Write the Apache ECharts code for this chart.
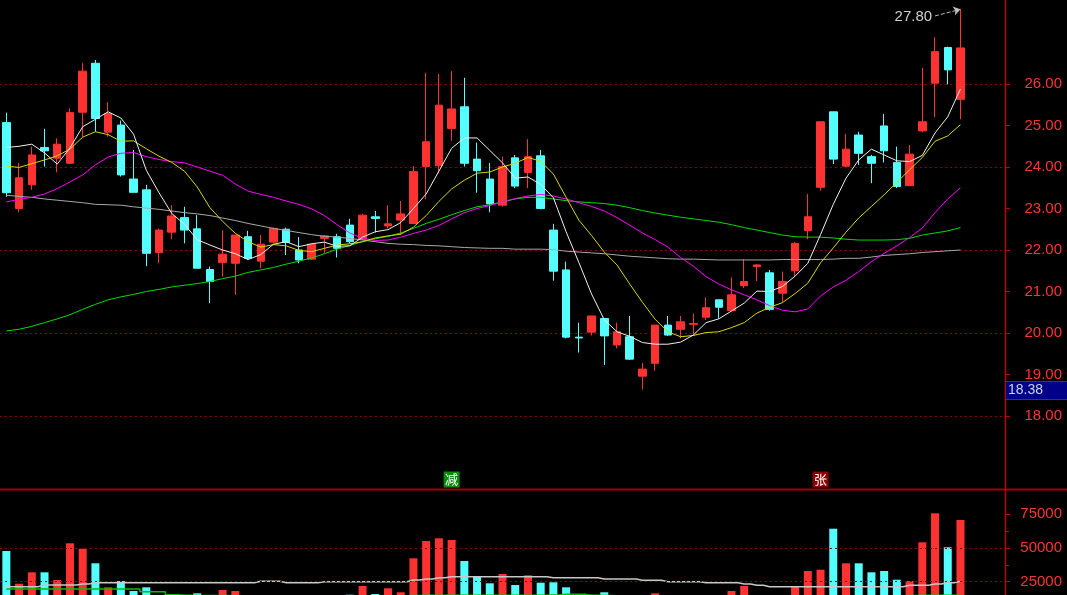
<!DOCTYPE html>
<html><head><meta charset="utf-8">
<script src="https://cdn.jsdelivr.net/npm/echarts@6/dist/echarts.min.js"></script>
<style>html,body{margin:0;padding:0;background:#000;}#c{width:1067px;height:595px;}</style>
</head><body><div id="c"></div>
<script>
// ---- data ----
const openP  = [25.07,23.00,23.57,24.47,24.21,24.09,25.32,26.50,24.84,25.01,23.71,23.45,21.94,22.43,22.78,22.51,21.53,21.70,21.68,22.32,21.73,22.19,22.50,22.00,21.78,22.28,22.32,22.60,22.26,22.80,22.58,22.72,22.64,24.01,24.03,24.93,25.45,24.19,23.71,23.08,24.22,23.87,24.27,22.48,21.52,19.90,20.02,20.35,19.71,19.91,18.96,19.27,20.19,20.09,20.21,20.38,20.80,20.54,21.14,21.60,21.45,20.96,21.50,22.47,23.51,25.33,24.02,24.77,24.25,24.99,24.11,23.55,24.87,26.02,26.88,25.63];
const closeP = [23.38,23.74,24.29,24.39,24.55,25.31,26.31,25.17,25.29,23.81,23.39,21.92,22.48,22.82,22.48,21.56,21.24,21.90,22.36,21.80,22.14,22.52,22.18,21.76,22.14,22.34,22.04,22.20,22.84,22.76,22.63,22.87,23.89,24.61,25.49,25.40,24.09,23.91,23.11,24.01,23.54,24.25,23.00,21.49,19.90,19.88,20.41,19.93,20.03,19.37,19.13,20.19,19.95,20.27,20.23,20.61,20.62,20.92,21.24,21.64,20.57,21.24,22.16,22.80,25.09,24.19,24.43,24.33,24.09,24.39,23.53,24.31,25.09,26.78,26.34,26.87];
const lowP   = [23.28,22.91,23.45,24.01,23.87,24.07,24.73,24.85,24.73,23.77,23.39,21.61,21.68,22.26,22.16,21.56,20.72,21.36,20.92,21.76,21.56,22.16,21.88,21.68,21.76,21.92,21.82,22.16,22.24,22.42,22.52,22.36,22.63,23.22,23.85,24.63,24.01,23.38,22.91,23.04,23.49,23.49,22.98,21.26,19.87,19.53,19.94,19.23,19.63,19.35,18.64,19.09,19.93,19.87,19.95,20.31,20.35,20.52,21.08,21.25,20.54,20.75,21.37,22.26,23.43,24.07,24.01,24.05,23.61,24.11,23.49,23.55,24.84,25.20,25.99,25.15];
const highP  = [25.31,24.10,24.49,24.92,24.69,25.41,26.50,26.58,25.56,25.12,24.41,23.57,22.52,23.08,23.04,22.84,21.60,22.48,22.36,22.46,22.36,22.54,22.54,22.31,22.16,22.36,22.39,22.75,22.87,22.94,23.08,23.18,24.02,26.27,26.24,26.31,26.15,24.59,24.10,24.25,24.29,24.67,24.41,22.63,21.72,20.25,20.41,20.35,20.25,20.41,19.28,20.19,20.41,20.41,20.47,20.86,20.80,21.34,21.78,21.66,21.52,21.48,22.19,23.35,25.09,25.33,24.80,24.85,24.29,25.28,24.49,24.53,26.39,27.13,26.90,27.80];
const volume = [47770,23500,31970,31970,26260,53480,49480,38650,20840,25520,18100,20840,13500,12800,11500,16390,13000,18840,18100,12500,11800,10500,11200,12000,10800,11500,12300,15350,21810,15870,20100,17140,42360,55190,57190,55930,40350,28710,23810,30710,22550,29750,24260,24550,20840,14200,13500,17140,12600,13800,12200,16390,11900,12400,10900,13600,12800,18100,21810,13200,14100,12700,21290,32940,33900,64310,38650,38650,31970,32940,26480,25520,54230,75740,50520,70770];
// moving-average lines (white, yellow, magenta, green, gray)
const ma5  = [24.47,24.50,24.55,24.34,24.07,24.46,24.97,25.15,25.33,25.18,24.79,23.92,23.38,22.88,22.62,22.25,22.12,22.00,21.91,21.77,21.89,22.14,22.20,22.08,22.15,22.19,22.09,22.10,22.31,22.44,22.49,22.66,23.00,23.35,23.90,24.45,24.70,24.70,24.40,24.10,23.73,23.76,23.58,23.26,22.44,21.70,20.94,20.32,20.03,19.92,19.77,19.73,19.73,19.78,19.95,20.25,20.34,20.53,20.72,21.01,21.00,21.12,21.37,21.68,22.37,23.10,23.73,24.17,24.43,24.29,24.15,24.13,24.28,24.82,25.21,25.88];
const ma10 = [24.02,23.99,24.08,24.17,24.27,24.43,24.72,24.85,24.78,24.62,24.63,24.44,24.26,24.11,23.90,23.52,23.02,22.69,22.40,22.20,22.07,22.13,22.10,21.99,21.96,22.04,22.12,22.15,22.20,22.29,22.34,22.38,22.55,22.83,23.17,23.47,23.68,23.85,23.88,24.00,24.09,24.23,24.14,23.83,23.27,22.72,22.35,21.95,21.64,21.18,20.74,20.33,20.03,19.91,19.94,20.01,20.03,20.13,20.25,20.48,20.62,20.73,20.95,21.20,21.69,22.05,22.43,22.77,23.05,23.33,23.63,23.93,24.23,24.62,24.75,25.02];
const ma20 = [23.16,23.22,23.27,23.35,23.48,23.64,23.81,24.05,24.24,24.33,24.35,24.25,24.18,24.13,24.10,24.00,23.90,23.80,23.59,23.42,23.34,23.27,23.18,23.10,22.99,22.83,22.61,22.41,22.28,22.23,22.24,22.31,22.40,22.48,22.59,22.75,22.90,23.00,23.07,23.16,23.24,23.30,23.34,23.30,23.23,23.14,23.05,22.94,22.78,22.60,22.41,22.25,22.07,21.82,21.61,21.36,21.18,21.04,20.92,20.80,20.66,20.55,20.51,20.58,20.89,21.11,21.27,21.48,21.72,21.92,22.10,22.30,22.53,22.90,23.23,23.50];
const ma60 = [20.05,20.09,20.16,20.25,20.34,20.44,20.57,20.69,20.80,20.87,20.93,21.00,21.05,21.11,21.15,21.19,21.24,21.31,21.37,21.46,21.52,21.58,21.66,21.73,21.81,21.91,22.02,22.11,22.20,22.27,22.33,22.41,22.52,22.64,22.74,22.85,22.95,23.04,23.09,23.16,23.23,23.27,23.27,23.23,23.19,23.16,23.14,23.12,23.08,23.02,22.95,22.89,22.84,22.79,22.75,22.71,22.67,22.61,22.54,22.48,22.42,22.36,22.32,22.31,22.31,22.29,22.26,22.24,22.24,22.24,22.25,22.28,22.36,22.41,22.46,22.54];
const ma120 = [23.32,23.29,23.27,23.23,23.20,23.17,23.14,23.10,23.09,23.08,23.04,23.01,22.98,22.94,22.90,22.87,22.83,22.77,22.71,22.64,22.58,22.52,22.47,22.42,22.37,22.33,22.31,22.28,22.24,22.20,22.16,22.14,22.13,22.11,22.10,22.08,22.06,22.05,22.04,22.04,22.02,22.02,22.02,22.01,21.97,21.95,21.93,21.91,21.88,21.85,21.83,21.81,21.79,21.78,21.78,21.77,21.76,21.76,21.76,21.76,21.76,21.77,21.77,21.77,21.77,21.78,21.80,21.80,21.83,21.87,21.89,21.91,21.94,21.96,21.98,22.00];
const volMaShort = [21290,21290,21290,22550,22550,22550,23290,24260,24260,24260,24260,24260,24260,24260,24260,24260,24260,24260,24260,24260,25300,25300,24260,24260,24260,25000,25000,25000,25000,25000,25000,25000,26260,27000,27970,28710,28710,28710,28710,28710,28710,28710,28710,27970,27970,27970,27970,27000,27000,27000,26040,26040,25000,25000,25000,24260,24260,24260,23290,22330,21290,21290,21290,21290,21290,21290,21290,21290,21290,21290,21290,22330,22330,23290,24260,25300];
const volMaLong = [19580,19580,19580,19580,19580,19580,19580,19580,19580,19580,19580,17580,17580,15300,14900,14800,14700,14700,14600,14600,14500,14500,14500,14400,14400,14400,14300,14300,14300,14400,14500,14600,14800,15000,15000,15000,15000,15000,15000,15000,15000,15000,15000,15100,15650,15650,15000,14800,14600,14400,14200,14000,13900,13800,13700,13600,13500,13500,13400,13400,13300,13300,13300,13400,13500,13800,14000,14200,14400,14500,14600,14700,14900,15000,15000,15000];
const categories = closeP.map((_, i) => 'D' + (i + 1));
const priceLabelRange = [18, 26];
const priceGridStep = 2;
const volumeLabelRange = [25000, 75000];
const volumeGridLines = [25000, 50000];
const highText = '27.80';
const signalIndex = [35, 64];
const signalText = ['减', '张'];
const signalColor = ['#0a8a0a', '#8a0000'];
const pointerText = '18.38';

// ---- styles ----
const UP = '#ff3232', DOWN = '#54ffff';
const AX = '#c00000', GRIDC = '#8a0000', LBL = '#ff3333';
const FONT = 'Liberation Sans, Arial, sans-serif';

const candleData = openP.map((o, i) => [o, closeP[i], lowP[i], highP[i]]);
const volData = volume.map((v, i) => ({
  value: v,
  itemStyle: { color: closeP[i] >= openP[i] ? UP : DOWN }
}));

const chart = echarts.init(document.getElementById('c'), null, { renderer: 'canvas' });
const xCommon = { type: 'category', data: categories, max: 78, show: false, boundaryGap: true };

function maSeries(name, data, color) {
  return { name, type: 'line', data, xAxisIndex: 0, yAxisIndex: 0, symbol: 'none', smooth: false,
    lineStyle: { color, width: 1 }, silent: true, z: 3 };
}

chart.setOption({
  backgroundColor: '#000',
  animation: false,
  grid: [
    { left: 0, width: 1005, top: 1, height: 498 },        // price panel
    { left: 0, width: 1005, top: 489, height: 106 },      // volume panel (bottom cut at canvas edge)
    { left: 0, width: 1005, top: 84, height: 332 },       // price tick labels 18..26
    { left: 0, width: 1005, top: 514.3, height: 67.4 }    // volume tick labels 25000..75000
  ],
  xAxis: [
    Object.assign({ gridIndex: 0 }, xCommon),
    Object.assign({ gridIndex: 1 }, xCommon),
    Object.assign({ gridIndex: 2 }, xCommon),
    Object.assign({ gridIndex: 3 }, xCommon)
  ],
  yAxis: [
    { gridIndex: 0, type: 'value', min: 16, max: 28, show: false },
    { gridIndex: 1, type: 'value', min: 15133, max: 93764, show: false },
    { gridIndex: 2, type: 'value', position: 'right', min: priceLabelRange[0], max: priceLabelRange[1], interval: 1,
      axisLine: { show: false }, splitLine: { show: false },
      axisTick: { show: true, length: 5, lineStyle: { color: AX } },
      axisLabel: { show: true, align: 'right', margin: 57, color: LBL, fontSize: 15, fontFamily: FONT,
        formatter: v => v.toFixed(2) } },
    { gridIndex: 2, type: 'value', position: 'right', min: priceLabelRange[0], max: priceLabelRange[1], interval: priceGridStep,
      axisLine: { show: false }, axisTick: { show: false }, axisLabel: { show: false },
      splitLine: { show: true, lineStyle: { color: GRIDC, type: [2, 3], width: 1 } } },
    { gridIndex: 3, type: 'value', position: 'right', min: volumeLabelRange[0], max: volumeLabelRange[1], interval: 25000,
      axisLine: { show: false }, splitLine: { show: false },
      axisTick: { show: true, length: 5, lineStyle: { color: AX } },
      minorTick: { show: true, splitNumber: 2, length: 4, lineStyle: { color: AX } },
      axisLabel: { show: true, align: 'right', margin: 57, color: LBL, fontSize: 15, fontFamily: FONT,
        formatter: v => String(v) } }
  ],
  series: [
    { name: 'K', type: 'candlestick', data: candleData, xAxisIndex: 0, yAxisIndex: 0, barWidth: 8,
      itemStyle: { color: UP, color0: DOWN, borderColor: UP, borderColor0: DOWN, borderWidth: 1 },
      silent: true,
      markLine: {
        silent: true, symbol: ['none', 'arrow'], symbolSize: 7, animation: false,
        lineStyle: { color: '#bdbdbd', type: [4, 2], width: 1 },
        label: { show: true, position: 'start', formatter: highText, color: '#cfcfcf', fontSize: 15, fontFamily: FONT, distance: 3 },
        data: [[{ coord: [73, 27.64] }, { coord: [75, highP[75]] }]]
      },
      markPoint: {
        silent: true, symbol: 'rect', symbolSize: [16, 16], animation: false,
        label: { show: true, position: 'inside', color: '#ffffff', fontSize: 13, fontFamily: 'Noto Sans CJK SC' },
        data: signalIndex.map((idx, k) => ({ coord: [idx, 16.47], itemStyle: { color: signalColor[k] },
          label: { formatter: signalText[k] } }))
      }
    },
    maSeries('MA120', ma120, '#a8a8a8'),
    maSeries('MA60', ma60, '#00dd00'),
    maSeries('MA20', ma20, '#ff00ff'),
    maSeries('MA10', ma10, '#d8d800'),
    maSeries('MA5', ma5, '#f0f0f0'),
    { name: 'VOL', type: 'bar', data: volData, xAxisIndex: 1, yAxisIndex: 1, barWidth: 8, silent: true, clip: true,
      markLine: { silent: true, symbol: 'none', animation: false, label: { show: false },
        lineStyle: { color: GRIDC, type: [2, 3], width: 1 },
        data: volumeGridLines.map(v => ({ yAxis: v })) } },
    { name: 'VMA5', type: 'line', data: volMaShort, xAxisIndex: 1, yAxisIndex: 1, step: 'middle', symbol: 'none',
      lineStyle: { color: '#c8c8c8', width: 1.5 }, silent: true, z: 3, clip: true },
    { name: 'VMA10', type: 'line', data: volMaLong, xAxisIndex: 1, yAxisIndex: 1, step: 'middle', symbol: 'none',
      lineStyle: { color: '#00c000', width: 1.5 }, silent: true, z: 3, clip: true }
  ],
  graphic: [
    { type: 'line', silent: true, z: 10, shape: { x1: 0, y1: 489.5, x2: 1067, y2: 489.5 }, style: { stroke: '#a00000', lineWidth: 2 } },
    { type: 'line', silent: true, z: 10, shape: { x1: 1005.5, y1: 0, x2: 1005.5, y2: 595 }, style: { stroke: AX, lineWidth: 1.5 } },
    { type: 'rect', silent: true, z: 11, shape: { x: 1006, y: 381.5, width: 61, height: 18 }, style: { fill: '#000088' } },
    { type: 'line', silent: true, z: 12, shape: { x1: 1006, y1: 381.5, x2: 1067, y2: 381.5 }, style: { stroke: '#c00000', lineWidth: 1 } },
    { type: 'line', silent: true, z: 12, shape: { x1: 1006, y1: 399.5, x2: 1067, y2: 399.5 }, style: { stroke: '#c00000', lineWidth: 1 } },
    { type: 'text', silent: true, z: 12, left: 1008, top: 383, style: { text: pointerText, fill: '#d0d0e8', font: '14px ' + FONT } }
  ]
});
</script></body></html>
